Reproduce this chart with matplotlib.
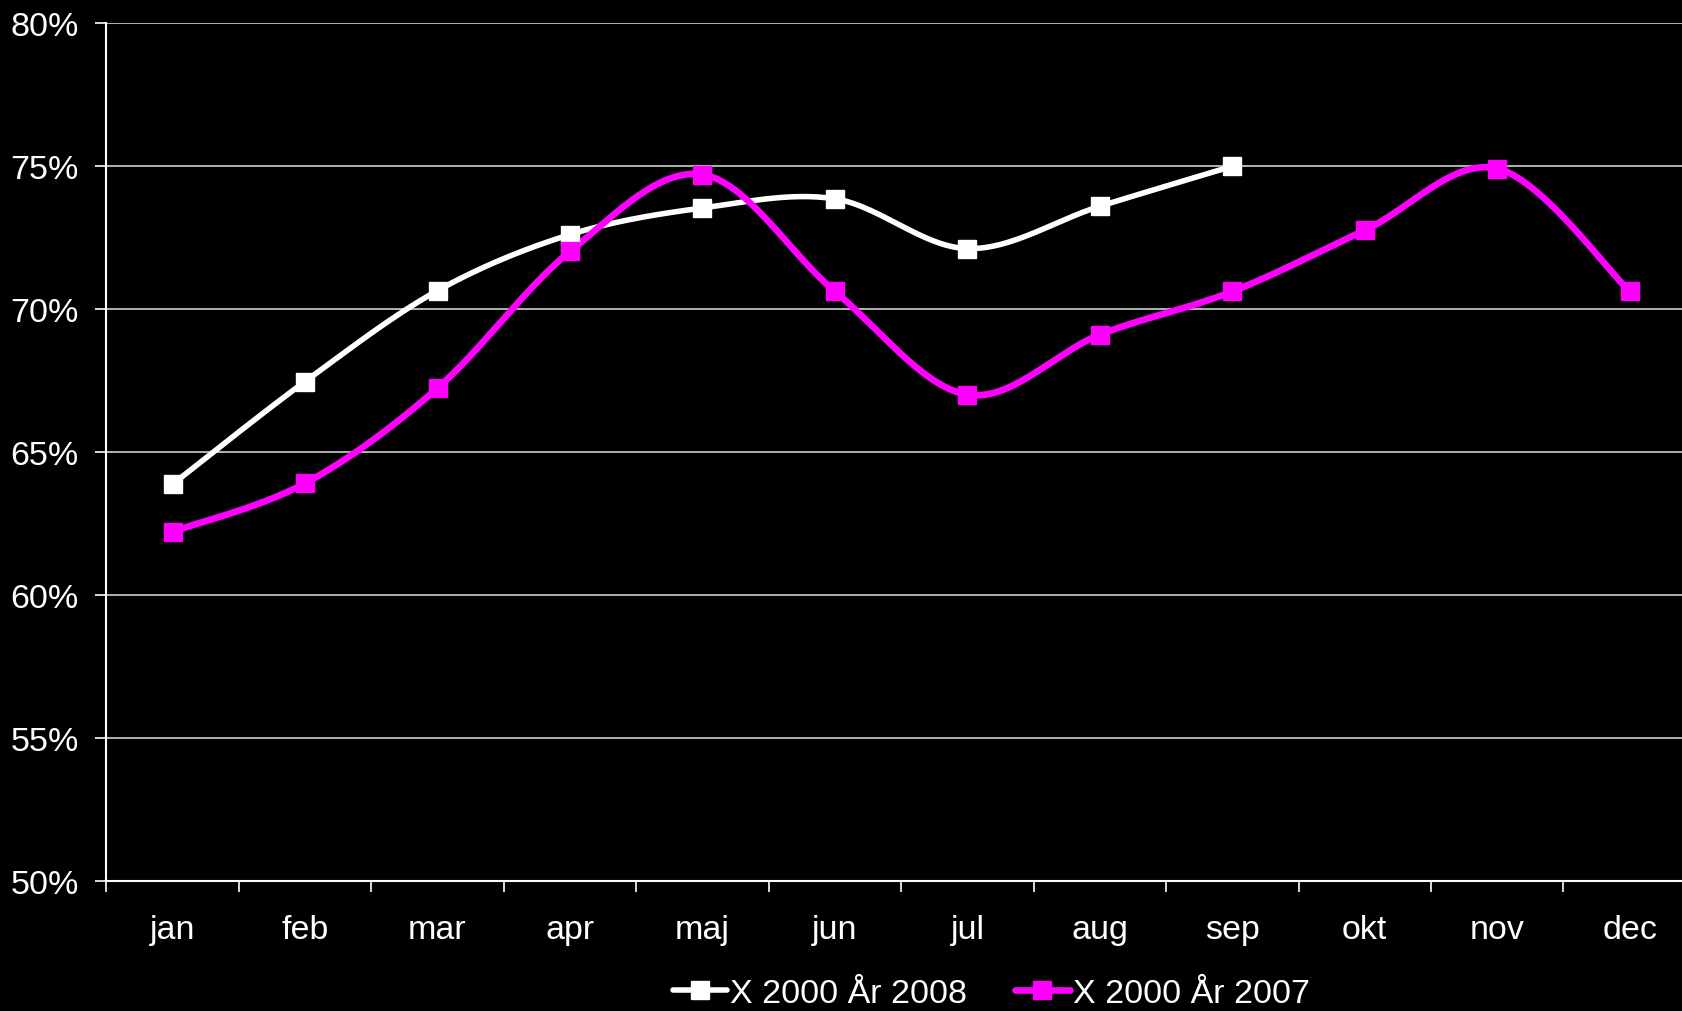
import numpy as np
import matplotlib
matplotlib.use('Agg')
from matplotlib import pyplot as plt

manader = ['jan', 'feb', 'mar', 'apr', 'maj', 'jun', 'jul', 'aug', 'sep', 'okt', 'nov', 'dec']
ar_2008 = [63.88, 67.47, 70.65, 72.61, 73.54, 73.86, 72.12, 73.60, 75.00]
ar_2007 = [62.22, 63.91, 67.24, 72.02, 74.71, 70.62, 67.01, 69.11, 70.62, 72.76, 74.92, 70.62]
y_ticks = [50, 55, 60, 65, 70, 75, 80]

plt.rcParams['font.family'] = ['Liberation Sans', 'DejaVu Sans']


def utjamna(y, steg=30):
    # Excel-liknande utjämnad linje (Catmull-Rom via Bezier)
    y = np.asarray(y, dtype=float)
    x = np.arange(len(y), dtype=float)
    px, py = [x[0]], [y[0]]
    for i in range(len(y) - 1):
        i0 = max(i - 1, 0)
        i3 = min(i + 2, len(y) - 1)
        c1x = x[i] + (x[i + 1] - x[i0]) / 6
        c1y = y[i] + (y[i + 1] - y[i0]) / 6
        c2x = x[i + 1] - (x[i3] - x[i]) / 6
        c2y = y[i + 1] - (y[i3] - y[i]) / 6
        t = np.linspace(0, 1, steg)[1:]
        bx = (1 - t)**3 * x[i] + 3 * (1 - t)**2 * t * c1x + 3 * (1 - t) * t**2 * c2x + t**3 * x[i + 1]
        by = (1 - t)**3 * y[i] + 3 * (1 - t)**2 * t * c1y + 3 * (1 - t) * t**2 * c2y + t**3 * y[i + 1]
        px.extend(bx)
        py.extend(by)
    return np.array(px), np.array(py)


fig = plt.figure(figsize=(16.83, 10.12), dpi=100, facecolor='black')
ax = fig.add_axes([0.0632, 0.1285, 0.9445, 0.8475], facecolor='black')

for namn, data, farg, lw in [('X 2000 År 2008', ar_2008, 'white', 4.0),
                              ('X 2000 År 2007', ar_2007, '#ff00ff', 4.8)]:
    sx, sy = utjamna(data)
    ax.plot(sx, sy, color=farg, lw=lw, solid_capstyle='round', zorder=3, clip_on=False)
    ax.plot(range(len(data)), data, ls='none', marker='s', ms=13.5, color=farg, zorder=4, clip_on=False)
    ax.plot([], [], color=farg, lw=lw, marker='s', ms=13.5, solid_capstyle='round', label=namn)

ax.set_xlim(-0.5, 11.5)
ax.set_ylim(50, 80)
ax.set_yticks(y_ticks)
ax.set_yticklabels([f'{v}%' for v in y_ticks])
ax.set_xticks(range(len(manader)))
ax.set_xticklabels(manader)
ax.set_xticks(np.arange(-0.5, 12, 1), minor=True)
ax.tick_params(axis='x', which='major', length=0, pad=24, colors='white', labelsize=24.5)
ax.tick_params(axis='x', which='minor', length=8, width=1.2, color='white', direction='out')
ax.tick_params(axis='y', length=8, width=1.2, color='white', labelcolor='white', labelsize=24.5, pad=12)

ax.grid(axis='y', color='#d0d0d0', lw=1.2, zorder=1)
for s in ['top', 'right']:
    ax.spines[s].set_visible(False)
for s in ['left', 'bottom']:
    ax.spines[s].set_color('white')
    ax.spines[s].set_linewidth(1.5)
    ax.spines[s].set_zorder(2)

leg = fig.legend(loc='center', bbox_to_anchor=(0.589, 0.017), ncol=2, frameon=False,
                 fontsize=24.5, handlelength=1.6, handletextpad=0.1, columnspacing=1.4)
for t in leg.get_texts():
    t.set_color('white')

fig.savefig('out.png', dpi=100, facecolor='black')
